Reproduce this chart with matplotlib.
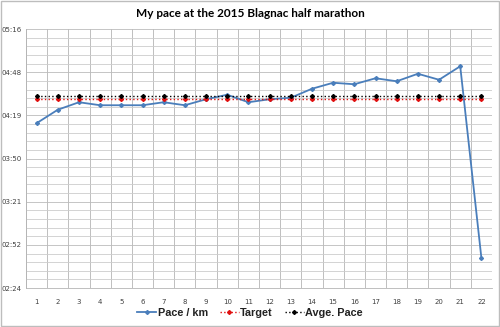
import numpy as np
import matplotlib
matplotlib.use("Agg")
import matplotlib.pyplot as plt
from matplotlib.ticker import MultipleLocator, FuncFormatter

# km index and pace per km (seconds)
km = list(range(1, 23))
pace = [254, 263, 268, 266, 266, 266, 268, 266, 270, 273, 268,
        270, 271, 277, 281, 280, 284, 282, 287, 283, 292, 164]
target = [270] * 22
avg_pace = [272] * 22

y_min, y_max, y_step = 144, 316.8, 28.8


def mmss(v, pos):
    v = int(v + 1e-6)
    return "%02d:%02d" % (v // 60, v % 60)


fig = plt.figure(figsize=(5, 3.27), dpi=100)
ax = fig.add_axes([0.052, 0.119, 0.932, 0.792])

ax.plot(km, pace, color='#4a7ebb', lw=1.3, marker='D', ms=2, label='Pace / km', zorder=3)
ax.plot(km, target, color='#e01010', lw=1.0, ls=':', marker='D', ms=2, label='Target', zorder=4)
ax.plot(km, avg_pace, color='black', lw=1.0, ls=':', marker='D', ms=2, label='Avge. Pace', zorder=4)

ax.set_xlim(0.5, 22.5)
ax.set_ylim(y_min, y_max)
ax.set_xticks(km)
ax.set_xticks(np.arange(0.5, 23, 1), minor=True)
ax.yaxis.set_major_locator(MultipleLocator(y_step))
ax.yaxis.set_minor_locator(MultipleLocator(y_step / 5))
ax.yaxis.set_major_formatter(FuncFormatter(mmss))

ax.grid(which='minor', axis='x', color='#b4b4b4', lw=0.6)
ax.grid(which='major', axis='y', color='#bcbcbc', lw=0.6)
ax.grid(which='minor', axis='y', color='#cccccc', lw=0.6)
ax.set_axisbelow(True)

ax.tick_params(which='both', length=0, labelsize=5, colors='#404040', pad=8)
ax.tick_params(axis='y', pad=3)
for s in ['top', 'right']:
    ax.spines[s].set_visible(False)
ax.spines['bottom'].set_color('#b4b4b4')
ax.spines['left'].set_color('#b4b4b4')
ax.spines['bottom'].set_linewidth(0.6)
ax.spines['left'].set_linewidth(0.6)

fig.text(0.5, 0.958, 'My pace at the 2015 Blagnac half marathon', ha='center', va='center',
         fontsize=8.5, fontweight='bold', color='black', family='Lato')

leg = fig.legend(loc='center', bbox_to_anchor=(0.5, 0.043), ncol=3, frameon=False,
                 prop={'family': 'Liberation Sans', 'weight': 'bold', 'size': 7.8},
                 handlelength=1.75, columnspacing=1.1, handletextpad=0.15)
for t in leg.get_texts():
    t.set_color('#222222')

fig.patches.append(plt.Rectangle((0.002, 0.003), 0.996, 0.994, transform=fig.transFigure,
                                 fill=False, edgecolor='#bdbdbd', lw=1))

fig.savefig('out.png', dpi=100)
